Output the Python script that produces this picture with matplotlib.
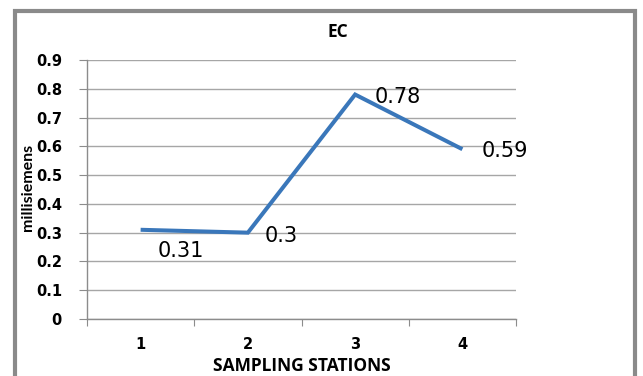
import matplotlib
matplotlib.use('Agg')
import matplotlib.pyplot as plt
import matplotlib.patches as mpatches

stations = [1, 2, 3, 4]
ec_values = [0.31, 0.30, 0.78, 0.59]
value_labels = ['0.31', '0.3', '0.78', '0.59']
yticks = [0, 0.1, 0.2, 0.3, 0.4, 0.5, 0.6, 0.7, 0.8, 0.9]
ytick_labels = ['0', '0.1', '0.2', '0.3', '0.4', '0.5', '0.6', '0.7', '0.8', '0.9']

W, H = 643, 376
fig = plt.figure(figsize=(W / 100, H / 100), dpi=100)
ax = fig.add_axes([87 / W, 1 - 319 / H, (516 - 87) / W, (319 - 60) / H])

grey = '#8c8c8c'
ax.plot(stations, ec_values, color='#3a77ba', linewidth=2.9, solid_capstyle='butt', solid_joinstyle='miter', zorder=3)

# data labels, offsets in pixels
offsets = [(17, -21), (17, -3), (19, -2), (19, -2)]
for x, y, txt, off in zip(stations, ec_values, value_labels, offsets):
    ax.annotate(txt, (x, y), xytext=off, textcoords='offset pixels',
                ha='left', va='center', fontsize=15, family='DejaVu Sans', color='black')

ax.set_xlim(0.5, 4.5)
ax.set_ylim(0, 0.9)
ax.set_yticks(yticks)
ax.set_yticklabels(ytick_labels, fontsize=10.5, fontweight='bold')
ax.yaxis.grid(True, color='#a6a6a6', linewidth=1.0)
ax.set_axisbelow(True)

# category boundaries as major ticks, labels on minor ticks
ax.set_xticks([0.5, 1.5, 2.5, 3.5, 4.5])
ax.set_xticklabels([])
ax.set_xticks(stations, minor=True)
ax.set_xticklabels([str(s) for s in stations], minor=True, fontsize=10.5, fontweight='bold')
ax.tick_params(axis='x', which='major', length=5, color=grey, direction='out')
ax.tick_params(axis='x', which='minor', length=0, pad=13)
ax.tick_params(axis='y', length=6, color=grey, pad=12)

for s in ['top', 'right']:
    ax.spines[s].set_visible(False)
for s in ['left', 'bottom']:
    ax.spines[s].set_color(grey)
    ax.spines[s].set_linewidth(1.0)

ax.set_ylabel('millisiemens', fontsize=11.5, fontweight='bold', family='Lato')
ax.yaxis.set_label_coords((35 - 87) / 429, (319 - 187) / 259)

fig.text(338 / W, 1 - 32 / H, 'EC', ha='center', va='center', fontsize=12.5, fontweight='bold', family='Open Sans')
fig.text(302 / W, 1 - 366 / H, 'SAMPLING STATIONS', ha='center', va='center', fontsize=12.5, fontweight='bold', family='Open Sans')

# outer frame of the chart
frame = mpatches.Rectangle((15 / W, -0.1), (635 - 15) / W, 1.1 - 11 / H, transform=fig.transFigure,
                           fill=False, edgecolor='#8a8a8a', linewidth=3, clip_on=False)
fig.patches.append(frame)

fig.savefig('out.png', dpi=100)
